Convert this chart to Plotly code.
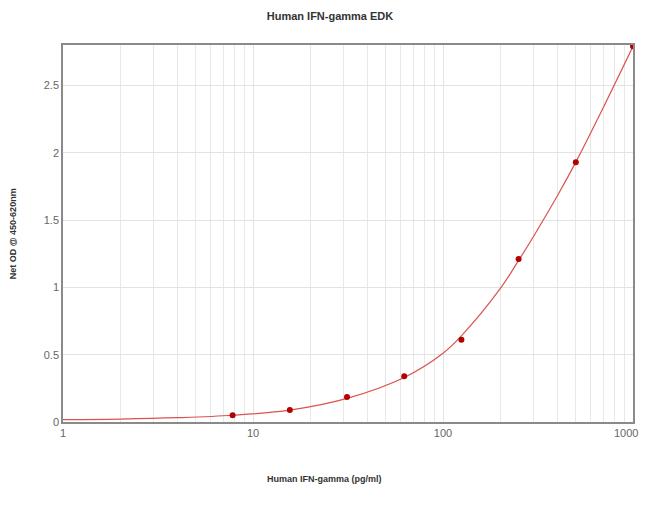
import plotly.graph_objects as go

# Standards (pg/ml) and measured Net OD
conc = [7.8125, 15.625, 31.25, 62.5, 125, 250, 500, 1000]
od = [0.05, 0.09, 0.185, 0.34, 0.61, 1.21, 1.93, 2.79]

# Fitted curve
curve_x = [1, 2, 4, 7.8125, 15.625, 31.25, 62.5, 100, 125, 200, 250, 300, 400, 500, 700, 1000]
curve_y = [0.018, 0.022, 0.032, 0.05, 0.088, 0.175, 0.33, 0.51, 0.64, 0.99, 1.2, 1.38, 1.68, 1.93, 2.34, 2.79]

x_ticks = [1, 10, 100, 1000]
x_tick_text = ["1", "10", "100", "1000"]
x_minor = [2, 3, 4, 5, 6, 7, 8, 9, 20, 30, 40, 50, 60, 70, 80, 90,
           200, 300, 400, 500, 600, 700, 800, 900]
y_ticks = [0, 0.5, 1, 1.5, 2, 2.5]
y_tick_text = ["0", "0.5", "1", "1.5", "2", "2.5"]

title_text = "Human IFN-gamma EDK"
x_title = "Human IFN-gamma (pg/ml)"
y_title = "Net OD @ 450-620nm"

# the page body has an 8px margin; keep the whole page at 650x507
OFF = 8
W, H = 650 - 2 * OFF, 507 - 2 * OFF
L, T = 63 - OFF, 45 - OFF
R = OFF + W - 635
B = OFF + H - 422
PW, PH = W - L - R, H - T - B

fig = go.Figure()
fig.add_trace(go.Scatter(
    x=curve_x, y=curve_y, mode="lines",
    line=dict(color="#d9534f", width=1.2, shape="spline", smoothing=1.0),
    hoverinfo="skip", showlegend=False,
))
fig.add_trace(go.Scatter(
    x=conc, y=od, mode="markers",
    marker=dict(color="#b30000", size=6),
    showlegend=False,
))

# last x tick label is pushed left to stay inside the page, as in the original
last_label = dict(text=x_tick_text[-1], xref="paper", yref="paper",
                  x=(628 - 63) / PW, y=-(433 - 422) / PH, showarrow=False,
                  xanchor="center", yanchor="middle",
                  font=dict(size=11, color="#666666"))

fig.update_layout(
    width=W, height=H,
    margin=dict(l=L, r=R, t=T, b=B),
    paper_bgcolor="white", plot_bgcolor="white",
    font=dict(family="Liberation Sans, Arial, sans-serif", size=11, color="#666666"),
    title=dict(text="<b>" + title_text + "</b>", x=(330 - OFF) / W, xref="container",
               xanchor="center", y=1 - (16 - OFF) / H, yref="container", yanchor="middle",
               font=dict(size=11, color="#333333")),
    annotations=[
        dict(text="<b>" + x_title + "</b>", xref="paper", yref="paper",
             x=(325 - 63) / PW, y=-(479 - 422) / PH, showarrow=False,
             xanchor="center", yanchor="middle",
             font=dict(size=9, color="#333333")),
        dict(text="<b>" + y_title + "</b>", xref="paper", yref="paper",
             x=-(63 - 13) / PW, y=(422 - 234) / PH, showarrow=False,
             textangle=-90, xanchor="center", yanchor="middle",
             font=dict(size=9, color="#333333")),
        last_label,
    ],
)

fig.update_xaxes(
    type="log", range=[0, 3],
    tickvals=x_ticks[:-1], ticktext=x_tick_text[:-1],
    showgrid=True, gridcolor="#e3e3e3", gridwidth=1,
    minor=dict(tickvals=x_minor, showgrid=True, gridcolor="#e8e8e8", gridwidth=1),
    showline=True, linecolor="#8a8a8a", linewidth=1.5, mirror=True,
    ticks="", ticklen=0, zeroline=False,
    tickfont=dict(size=11, color="#666666"),
)
fig.update_yaxes(
    range=[0, 2.8],
    tickvals=y_ticks, ticktext=y_tick_text,
    showgrid=True, gridcolor="#e3e3e3", gridwidth=1,
    showline=True, linecolor="#8a8a8a", linewidth=1.5, mirror=True,
    ticks="", zeroline=False,
    tickfont=dict(size=11, color="#666666"),
)

fig.write_html("out.html")
